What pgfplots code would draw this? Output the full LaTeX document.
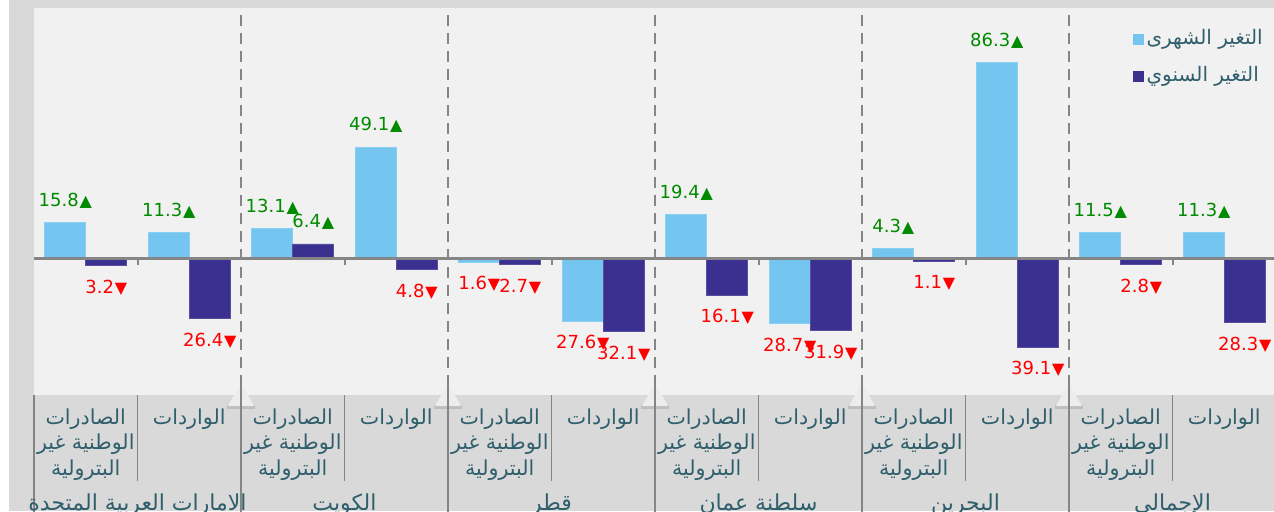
\documentclass[border=0pt]{standalone}
\usepackage{fontspec}
\usepackage{pgfplots}
\pgfplotsset{compat=1.18}
\usepackage{pgfplotstable}
\TeXXeTstate=1
\setmainfont{DejaVu Sans}
\newfontfamily\arabicfont[Script=Arabic]{DejaVu Sans}
\newfontfamily\numfont{DejaVu Sans}
\definecolor{lblue}{HTML}{74C6F0}
\definecolor{dblue}{HTML}{3B2F8F}
\definecolor{bggray}{HTML}{D9D9D9}
\definecolor{plotgray}{HTML}{F1F1F1}
\definecolor{linegray}{HTML}{858585}
\definecolor{labcol}{HTML}{2F5F6C}
\definecolor{upgreen}{HTML}{008A00}
\definecolor{downred}{HTML}{FF0000}

\pgfplotstableread{
x m a
0 15.8 -3.2
1 11.3 -26.4
2 13.1 6.4
3 49.1 -4.8
4 -1.6 -2.7
5 -27.6 -32.1
6 19.4 -16.1
7 -28.7 -31.9
8 4.3 -1.1
9 86.3 -39.1
10 11.5 -2.8
11 11.3 -28.3
}\datatable

\pgfkeys{/pgf/number format/.cd, fixed, fixed zerofill, precision=1, assume math mode=true}

\newcommand{\barlabel}[1]{%
  \edef\rawv{#1}%
  \pgfmathsetmacro\absv{abs(\rawv)}%
  \ifdim \rawv pt<0pt
    \textcolor{downred}{\numfont\pgfmathprintnumber{\absv}\kern0.4bp{\fontsize{8bp}{9bp}\selectfont ▼}}%
  \else
    \textcolor{upgreen}{\numfont\pgfmathprintnumber{\absv}\kern0.4bp{\fontsize{8bp}{9bp}\selectfont ▲}}%
  \fi}

\newcommand{\EXP}{\beginR الصادرات\endR\\\beginR الوطنية غير\endR\\\beginR البترولية\endR}
\newcommand{\IMP}{\beginR الواردات\endR}

\begin{document}
\begin{tikzpicture}[x=1bp,y=1bp]
\useasboundingbox (0,0) rectangle (637,255.5);
\clip (0,0) rectangle (637,255.5);
\fill[white] (0,0) rectangle (637,255.5);
\fill[bggray] (4.5,0) rectangle (640,256);
\fill[plotgray] (17,58) rectangle (640,251.5);
\begin{axis}[
  at={(17bp,58bp)}, anchor=south west,
  width=621bp, height=193.5bp, scale only axis,
  xmin=-0.5, xmax=11.5, ymin=-60.16, ymax=110.4,
  axis line style={draw=none},
  ytick=\empty,
  xtick={0,...,11},
  xticklabels={\EXP,\IMP,\EXP,\IMP,\EXP,\IMP,\EXP,\IMP,\EXP,\IMP,\EXP,\IMP},
  major tick length=0pt,
  xticklabel style={anchor=north, align=center, font=\arabicfont\fontsize{10.3bp}{12.9bp}\selectfont, text=labcol, inner sep=0pt, yshift=-6.5bp},
  ybar, bar width=0.396,
  clip=false,
  point meta=explicit symbolic,
  nodes near coords={\barlabel{\pgfplotspointmeta}},
  visualization depends on={rawy \as \rawy},
  every node near coord/.append style={font=\fontsize{9bp}{10bp}\selectfont, inner sep=7bp},
  every node near coord/.append code={\ifdim\rawy pt<0pt\relax\pgfkeysalso{anchor=north}\else\pgfkeysalso{anchor=south}\fi},
  legend style={draw=none, fill=none, at={(0.992,0.955)}, anchor=north east, font=\arabicfont\fontsize{10bp}{12bp}\selectfont, text=labcol, row sep=4.5bp, inner sep=0pt, nodes={inner sep=1.5bp, text height=8bp, text depth=3bp}},
  legend cell align=left,
  legend image code/.code={\fill[#1,draw=none] (0bp,-2.75bp) rectangle (5.5bp,2.75bp);},
]
\addplot[fill=lblue, draw=lblue!85!white, bar shift=-0.198] table[x=x,y=m,meta=m]{\datatable};
\addlegendentry{\beginR التغير الشهرى\endR}
\addplot[fill=dblue, draw=dblue!85!white, bar shift=0.198] table[x=x,y=a,meta=a]{\datatable};
\addlegendentry{\beginR التغير السنوي\endR}
\draw[linegray, line width=1.2bp] (axis cs:-0.5,0) -- (axis cs:11.5,0);
\pgfplotsinvokeforeach{0.5,2.5,4.5,6.5,8.5,10.5}{
  \draw[linegray, line width=1bp] (axis cs:#1,0) -- ([yshift=-3bp]axis cs:#1,0);
}
\pgfplotsinvokeforeach{1.5,3.5,5.5,7.5,9.5}{
  \draw[linegray, line width=1bp, dash pattern=on 5.5bp off 3.5bp] (axis cs:#1,107.3) -- (axis cs:#1,-60.16);
}
\end{axis}
% label region decorations
\foreach \k in {1,...,5} {
  \fill[black, opacity=0.12] ({17+103.5*\k-7},51) rectangle ({17+103.5*\k+7},53);
  \fill[white!93!black] ({17+103.5*\k},64) -- ({17+103.5*\k-6.5},52.5) -- ({17+103.5*\k+6.5},52.5) -- cycle;
}
\draw[linegray, line width=0.9bp] (17,58) -- (17,-2);
\foreach \k in {1,...,6} \draw[linegray, line width=0.9bp] ({17+103.5*\k},64) -- ({17+103.5*\k},-2);
\foreach \k in {0,...,5} \draw[linegray, line width=0.9bp] ({68.75+103.5*\k},58) -- ({68.75+103.5*\k},15);
\begin{scope}[every node/.style={font=\arabicfont\fontsize{11bp}{13bp}\selectfont, text=labcol, anchor=base}]
\node at (68.75,0.5) {\beginR الامارات العربية المتحدة\endR};
\node at (172.25,0.5) {\beginR الكويت\endR};
\node at (275.75,0.5) {\beginR قطر\endR};
\node at (379.25,0.5) {\beginR سلطنة عمان\endR};
\node at (482.75,0.5) {\beginR البحرين\endR};
\node at (586.25,0.5) {\beginR الإجمالي\endR};
\end{scope}
\end{tikzpicture}
\end{document}
